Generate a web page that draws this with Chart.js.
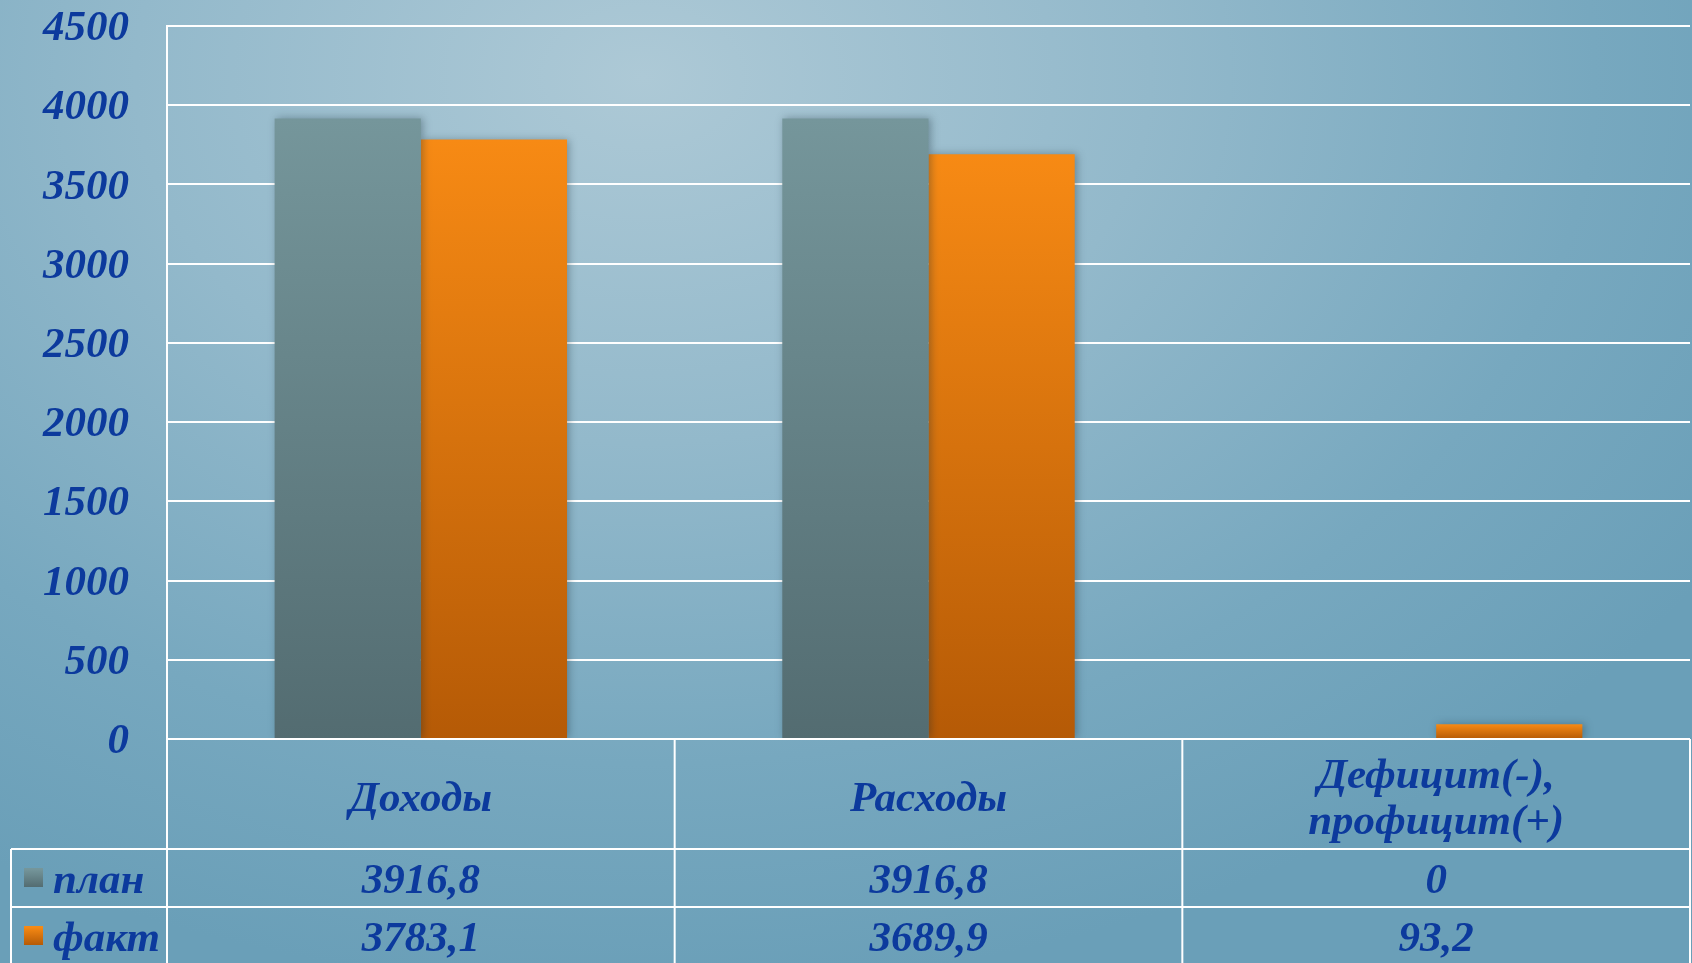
<!DOCTYPE html>
<html>
<head>
<meta charset="utf-8">
<script src="https://cdn.jsdelivr.net/npm/chart.js@4.4.0/dist/chart.umd.min.js"></script>
<style>
html, body { margin: 0; padding: 0; width: 1692px; height: 963px; overflow: hidden; }
body {
    background:
        radial-gradient(ellipse 75% 95% at 38% 8%, #adc9d6 0%, #93b9cb 40%, #77a8bf 75%, #6a9fb8 100%);
}
#wrap { position: relative; width: 1692px; height: 963px; }
</style>
</head>
<body>
<div id="wrap"><canvas id="myChart"></canvas></div>
<script>
//Datos
const categorias = [['Доходы'], ['Расходы'], ['Дефицит(-),', 'профицит(+)']];
const series = ['план', 'факт'];
const plan = [3916.8, 3916.8, 0];
const fact = [3783.1, 3689.9, 93.2];
const yMax = 4500;
const yStep = 500;

//Estilos
const azul = '#0c3a9d';
const fuente = '"Liberation Serif", "Times New Roman", serif';
const planTop = '#75969b', planBottom = '#536c71';
const factTop = '#f78a14', factBottom = '#b55a06';

const fmt = v => String(v).replace('.', ',');

//Gradiente por barra
function barGradient(top, bottom) {
    return (context) => {
        const chart = context.chart;
        const { ctx, chartArea, scales } = chart;
        if (!chartArea || !scales.y) return top;
        const v = context.raw;
        const y0 = scales.y.getPixelForValue(v);
        const y1 = scales.y.getPixelForValue(0);
        if (y1 - y0 < 1) return top;
        const g = ctx.createLinearGradient(0, y0, 0, y1);
        g.addColorStop(0, top);
        g.addColorStop(1, bottom);
        return g;
    };
}

//Sombra de barras
const shadowPlugin = {
    id: 'shadow',
    beforeDatasetsDraw(chart) {
        const ctx = chart.ctx;
        ctx.save();
        ctx.shadowColor = 'rgba(20,40,50,0.35)';
        ctx.shadowBlur = 8;
        ctx.shadowOffsetX = 2;
        ctx.shadowOffsetY = 0;
    },
    afterDatasetsDraw(chart) {
        chart.ctx.restore();
    }
};

//Tabla de datos bajo el grafico
const tablePlugin = {
    id: 'dataTable',
    afterDraw(chart) {
        const { ctx, chartArea, scales } = chart;
        const x = scales.x;
        const half = (x.getPixelForValue(1) - x.getPixelForValue(0)) / 2;
        const left = chartArea.left;
        const right = chartArea.right;
        const top = chartArea.bottom;
        const row1 = top + 110;
        const row2 = row1 + 58;
        const bottom = chart.height + 2;
        const legendLeft = 11;

        ctx.save();
        ctx.strokeStyle = '#ffffff';
        ctx.lineWidth = 2;
        ctx.beginPath();
        ctx.moveTo(left, top); ctx.lineTo(right, top);
        ctx.moveTo(legendLeft, row1); ctx.lineTo(right, row1);
        ctx.moveTo(legendLeft, row2); ctx.lineTo(right, row2);
        ctx.moveTo(legendLeft, row1); ctx.lineTo(legendLeft, bottom);
        ctx.moveTo(left, top); ctx.lineTo(left, bottom);
        for (let i = 0; i < categorias.length; i++) {
            const xr = x.getPixelForValue(i) + half;
            ctx.moveTo(xr, top); ctx.lineTo(xr, bottom);
        }
        ctx.stroke();

        ctx.fillStyle = azul;
        ctx.font = 'italic bold 43px ' + fuente;
        ctx.textAlign = 'center';
        ctx.textBaseline = 'middle';
        const headMid = (top + row1) / 2 + 6;
        categorias.forEach((lines, i) => {
            const cx = x.getPixelForValue(i);
            const lh = 46;
            const y0 = headMid - (lines.length - 1) * lh / 2;
            lines.forEach((t, j) => ctx.fillText(t, cx, y0 + j * lh));
        });

        const rows = [
            { name: series[0], vals: plan, top: planTop, bottom: planBottom, y: (row1 + row2) / 2 },
            { name: series[1], vals: fact, top: factTop, bottom: factBottom, y: row2 + 29 }
        ];
        rows.forEach(r => {
            ctx.textAlign = 'center';
            ctx.fillStyle = azul;
            r.vals.forEach((v, i) => ctx.fillText(fmt(v), x.getPixelForValue(i), r.y + 4));
            const g = ctx.createLinearGradient(0, r.y - 9, 0, r.y + 9);
            g.addColorStop(0, r.top);
            g.addColorStop(1, r.bottom);
            ctx.fillStyle = g;
            ctx.fillRect(24, r.y - 10, 19, 19);
            ctx.fillStyle = azul;
            ctx.textAlign = 'left';
            ctx.fillText(r.name, 53, r.y + 4);
        });
        ctx.restore();
    }
};

const cdx = document.getElementById('myChart');
new Chart(cdx, {
    type: 'bar',
    data: {
        labels: categorias.map(c => c.join(' ')),
        datasets: [
            {
                label: series[0],
                data: plan,
                backgroundColor: barGradient(planTop, planBottom),
                borderWidth: 0
            },
            {
                label: series[1],
                data: fact,
                backgroundColor: barGradient(factTop, factBottom),
                borderWidth: 0
            }
        ]
    },
    options: {
        responsive: true,
        maintainAspectRatio: false,
        animation: false,
        layout: { padding: { top: 0, right: 2, bottom: 224, left: 0 } },
        categoryPercentage: 0.576,
        barPercentage: 1.0,
        scales: {
            x: {
                display: false
            },
            y: {
                min: 0,
                max: yMax,
                ticks: {
                    stepSize: yStep,
                    color: azul,
                    padding: 38,
                    labelOffset: 3,
                    font: { family: fuente, size: 43, style: 'italic', weight: 'bold' },
                    callback: v => String(v)
                },
                grid: { color: '#ffffff', lineWidth: 2, drawTicks: false },
                border: { display: true, color: '#ffffff', width: 2 },
                afterFit(scale) {
                    scale.width = 167;
                    scale.paddingTop = 26;
                    scale.paddingBottom = 0;
                }
            }
        },
        plugins: {
            legend: { display: false },
            tooltip: { enabled: false }
        }
    },
    plugins: [shadowPlugin, tablePlugin]
});
</script>
</body>
</html>
